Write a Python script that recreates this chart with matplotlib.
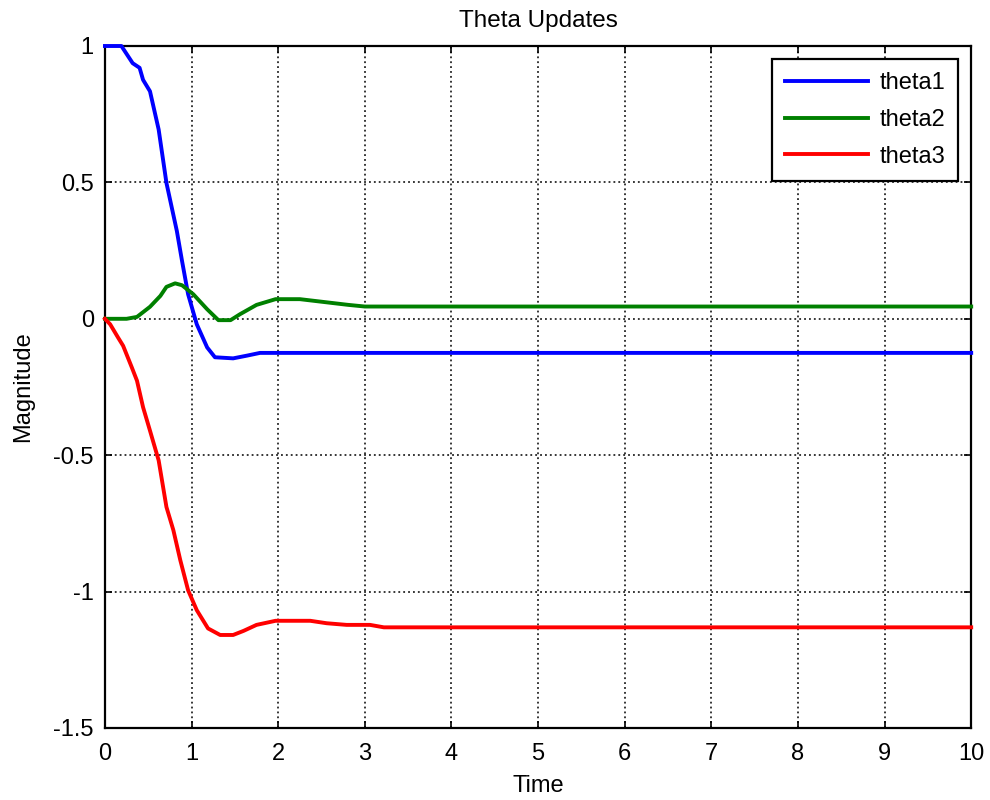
import matplotlib.pyplot as plt

plt.rcParams['font.family'] = ['Liberation Sans', 'DejaVu Sans']

# theta trajectories sampled at irregular time points
t1 = [0, 0.19, 0.32, 0.40, 0.44, 0.52, 0.62, 0.71, 0.83, 0.89, 0.96, 1.06, 1.18,
      1.27, 1.48, 1.64, 1.79, 10]
theta1 = [1.0, 1.0, 0.937, 0.92, 0.876, 0.834, 0.694, 0.498, 0.322, 0.212, 0.09,
          -0.02, -0.105, -0.141, -0.145, -0.135, -0.125, -0.125]

t2 = [0, 0.25, 0.37, 0.52, 0.64, 0.71, 0.81, 0.89, 1.02, 1.18, 1.31, 1.45, 1.56,
      1.75, 1.97, 2.25, 2.41, 2.81, 3.0, 10]
theta2 = [0.0, 0.0, 0.007, 0.044, 0.084, 0.117, 0.13, 0.123, 0.09, 0.035, -0.005,
          -0.005, 0.017, 0.051, 0.072, 0.072, 0.066, 0.051, 0.045, 0.045]

t3 = [0, 0.06, 0.15, 0.21, 0.31, 0.37, 0.44, 0.52, 0.62, 0.71, 0.79, 0.87, 0.96,
      1.06, 1.19, 1.33, 1.48, 1.60, 1.75, 1.97, 2.37, 2.56, 2.79, 3.06, 3.22, 10]
theta3 = [0.0, -0.02, -0.068, -0.099, -0.178, -0.227, -0.324, -0.41, -0.519, -0.69,
          -0.775, -0.885, -0.995, -1.068, -1.135, -1.159, -1.159, -1.144, -1.122,
          -1.107, -1.107, -1.116, -1.122, -1.122, -1.131, -1.131]

fig = plt.figure(figsize=(9.9, 8), dpi=100)
ax = fig.add_axes([0.106, 0.09, 0.875, 0.8525])

# draw on top of the frame so theta1 stays visible along y=1
line_kw = dict(lw=2.8, zorder=3, clip_on=False)
ax.plot(t1, theta1, color=(0, 0, 1), label='theta1', **line_kw)
ax.plot(t2, theta2, color=(0, 0.5, 0), label='theta2', **line_kw)
ax.plot(t3, theta3, color=(1, 0, 0), label='theta3', **line_kw)

ax.set_xlim(0, 10)
ax.set_ylim(-1.5, 1)
ax.set_xticks(range(0, 11))
ax.set_yticks([-1.5, -1, -0.5, 0, 0.5, 1])
ax.set_yticklabels(['-1.5', '-1', '-0.5', '0', '0.5', '1'])
ax.grid(True, color='black', linestyle=(0, (1.2, 2)), linewidth=1.1)
ax.tick_params(direction='in', top=True, right=True, length=5, width=1.2,
               labelsize=17)
ax.tick_params(axis='x', pad=11)
ax.tick_params(axis='y', pad=8)
for s in ax.spines.values():
    s.set_linewidth(1.6)

ax.set_title('Theta Updates', fontsize=17.5, pad=14)
ax.set_xlabel('Time', fontsize=17, labelpad=7)
ax.set_ylabel('Magnitude', fontsize=17, labelpad=14)

leg = ax.legend(loc='upper right', fontsize=17, fancybox=False, framealpha=1,
                edgecolor='black', handlelength=3.5, handletextpad=0.5,
                borderaxespad=0.55, labelspacing=0.63, borderpad=0.55)
leg.get_frame().set_linewidth(1.6)
leg.set_zorder(5)

fig.savefig('out.png', dpi=100)
